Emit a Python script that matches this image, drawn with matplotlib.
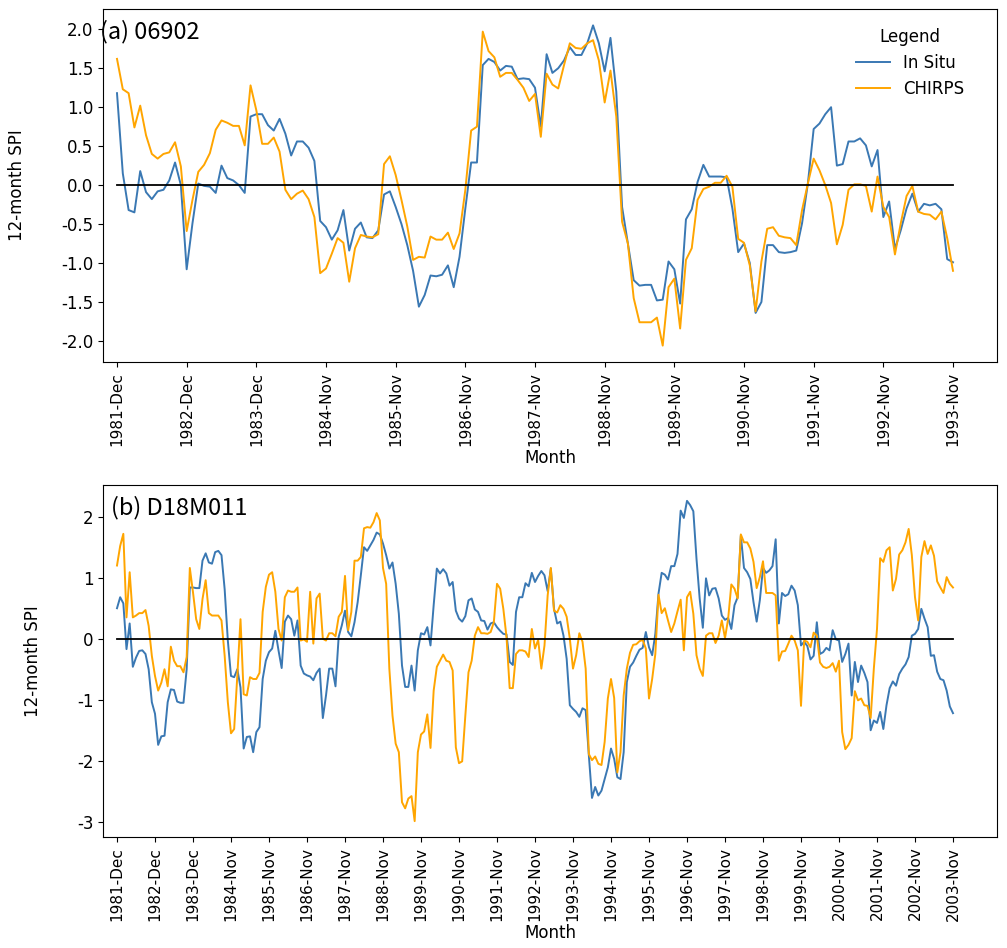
import matplotlib
matplotlib.use('Agg')
import matplotlib.pyplot as plt
import numpy as np

# ---------------- data ----------------
a_insitu = [1.18, 0.15, -0.32, -0.35, 0.18, -0.09, -0.18, -0.08, -0.06, 0.06,
            0.29, 0.00, -1.08, -0.49, 0.02, -0.01, -0.02, -0.10, 0.25, 0.09,
            0.06, 0.00, -0.10, 0.88, 0.91, 0.91, 0.77, 0.70, 0.85, 0.66,
            0.38, 0.56, 0.56, 0.48, 0.31, -0.46, -0.54, -0.70, -0.58, -0.32,
            -0.84, -0.56, -0.48, -0.67, -0.68, -0.58, -0.12, -0.08, -0.28, -0.50,
            -0.77, -1.10, -1.56, -1.41, -1.16, -1.17, -1.15, -1.03, -1.31, -0.92,
            -0.30, 0.29, 0.29, 1.54, 1.62, 1.58, 1.47, 1.53, 1.52, 1.36,
            1.37, 1.36, 1.25, 0.75, 1.68, 1.44, 1.50, 1.60, 1.77, 1.67,
            1.67, 1.82, 2.05, 1.82, 1.46, 1.89, 1.20, -0.28, -0.75, -1.22,
            -1.29, -1.28, -1.28, -1.48, -1.47, -0.98, -1.08, -1.52, -0.44, -0.31,
            0.04, 0.26, 0.11, 0.11, 0.11, 0.10, -0.30, -0.86, -0.75, -1.00,
            -1.64, -1.50, -0.77, -0.77, -0.86, -0.87, -0.86, -0.84, -0.49, 0.02,
            0.72, 0.79, 0.91, 1.00, 0.25, 0.27, 0.56, 0.56, 0.60, 0.51,
            0.24, 0.45, -0.41, -0.21, -0.82, -0.58, -0.30, -0.11, -0.34, -0.24,
            -0.26, -0.24, -0.31, -0.95, -0.99]
a_chirps = [1.62, 1.23, 1.18, 0.74, 1.02, 0.64, 0.40, 0.34, 0.40, 0.42,
            0.55, 0.24, -0.59, -0.19, 0.17, 0.26, 0.41, 0.71, 0.83, 0.80,
            0.76, 0.76, 0.51, 1.28, 0.96, 0.53, 0.53, 0.61, 0.43, -0.06,
            -0.18, -0.11, -0.07, -0.18, -0.41, -1.13, -1.07, -0.88, -0.68, -0.74,
            -1.24, -0.81, -0.64, -0.66, -0.67, -0.63, 0.27, 0.37, 0.13, -0.19,
            -0.53, -0.96, -0.92, -0.93, -0.66, -0.70, -0.70, -0.61, -0.82, -0.62,
            -0.06, 0.70, 0.75, 1.97, 1.72, 1.64, 1.39, 1.44, 1.44, 1.35,
            1.25, 1.08, 1.17, 0.62, 1.43, 1.29, 1.24, 1.54, 1.82, 1.76,
            1.75, 1.82, 1.86, 1.60, 1.06, 1.47, 0.88, -0.47, -0.75, -1.45,
            -1.76, -1.76, -1.76, -1.70, -2.06, -1.31, -1.20, -1.84, -0.96, -0.81,
            -0.19, -0.05, -0.02, 0.03, 0.03, 0.12, -0.02, -0.69, -0.74, -1.03,
            -1.62, -0.98, -0.56, -0.54, -0.65, -0.67, -0.68, -0.77, -0.32, 0.02,
            0.34, 0.19, 0.00, -0.23, -0.76, -0.51, -0.06, 0.01, 0.01, -0.01,
            -0.34, 0.11, -0.28, -0.41, -0.89, -0.49, -0.14, -0.01, -0.34, -0.37,
            -0.38, -0.44, -0.34, -0.68, -1.10]

b_insitu = [0.50, 0.68, 0.58, -0.17, 0.25, -0.46, -0.31, -0.20, -0.19, -0.25,
            -0.50, -1.04, -1.23, -1.74, -1.60, -1.59, -1.04, -0.83, -0.84, -1.03,
            -1.05, -1.05, -0.50, 0.84, 0.84, 0.83, 0.83, 1.28, 1.40, 1.25,
            1.23, 1.42, 1.44, 1.37, 0.81, -0.03, -0.61, -0.63, -0.50, -0.80,
            -1.80, -1.61, -1.60, -1.86, -1.53, -1.45, -0.66, -0.36, -0.22, -0.16,
            0.13, -0.19, -0.48, 0.28, 0.38, 0.32, 0.05, 0.30, -0.44, -0.57,
            -0.60, -0.62, -0.68, -0.56, -0.49, -1.30, -0.93, -0.49, -0.49, -0.78,
            0.03, 0.22, 0.46, 0.11, 0.04, 0.27, 0.60, 1.04, 1.50, 1.44,
            1.53, 1.62, 1.74, 1.71, 1.56, 1.37, 1.15, 1.25, 0.90, 0.41,
            -0.44, -0.79, -0.79, -0.44, -0.85, -0.19, 0.09, 0.07, 0.19, -0.11,
            0.55, 1.15, 1.07, 1.14, 1.07, 0.87, 0.93, 0.46, 0.33, 0.28,
            0.37, 0.63, 0.66, 0.48, 0.44, 0.30, 0.29, 0.15, 0.25, 0.27,
            0.19, 0.13, 0.08, 0.07, -0.38, -0.43, 0.44, 0.68, 0.68, 0.91,
            0.86, 1.08, 0.93, 1.03, 1.11, 1.04, 0.78, 1.15, 0.49, 0.25,
            0.28, 0.05, -0.33, -1.09, -1.15, -1.20, -1.28, -1.14, -1.17, -1.91,
            -2.61, -2.43, -2.57, -2.49, -2.30, -2.11, -1.80, -1.97, -2.27, -2.30,
            -1.86, -0.71, -0.46, -0.39, -0.28, -0.18, -0.15, 0.11, -0.14, -0.27,
            0.08, 0.74, 1.08, 1.05, 0.97, 1.19, 1.19, 1.39, 2.10, 1.98,
            2.26, 2.19, 2.09, 1.31, 0.66, 0.18, 0.99, 0.71, 0.82, 0.83,
            0.66, 0.38, 0.31, 0.34, 0.16, 0.55, 0.68, 1.69, 1.16, 1.09,
            0.98, 0.60, 0.28, 0.63, 1.16, 1.08, 1.12, 1.19, 1.63, 0.25,
            0.75, 0.70, 0.73, 0.87, 0.79, 0.55, -0.11, -0.05, -0.12, -0.34,
            -0.28, 0.27, -0.25, -0.22, -0.15, -0.19, 0.14, -0.01, -0.03, -0.38,
            -0.25, -0.08, -0.93, -0.38, -0.71, -0.44, -0.56, -0.71, -1.50, -1.34,
            -1.38, -1.20, -1.48, -1.09, -0.81, -0.70, -0.77, -0.58, -0.49, -0.42,
            -0.30, 0.05, 0.08, 0.16, 0.49, 0.33, 0.19, -0.28, -0.27, -0.54,
            -0.66, -0.68, -0.85, -1.11, -1.22]
b_chirps = [1.20, 1.52, 1.72, 0.35, 1.09, 0.35, 0.38, 0.42, 0.42, 0.47,
            0.21, -0.28, -0.61, -0.85, -0.72, -0.50, -0.78, -0.13, -0.36, -0.45,
            -0.45, -0.55, -0.30, 1.16, 0.76, 0.32, 0.16, 0.65, 0.96, 0.42,
            0.38, 0.38, 0.38, 0.30, -0.28, -1.04, -1.55, -1.48, -0.60, 0.32,
            -0.91, -0.93, -0.63, -0.66, -0.66, -0.56, 0.44, 0.85, 1.05, 1.09,
            0.77, 0.16, -0.03, 0.68, 0.79, 0.77, 0.77, 0.84, -0.03, -0.01,
            -0.05, 0.77, -0.08, 0.66, 0.74, 0.00, -0.03, 0.09, 0.09, 0.04,
            0.36, 0.44, 1.03, 0.14, 0.44, 1.28, 1.28, 1.34, 1.81, 1.83,
            1.82, 1.91, 2.06, 1.94, 1.16, 0.90, -0.49, -1.26, -1.72, -1.86,
            -2.68, -2.78, -2.62, -2.58, -2.99, -1.86, -1.57, -1.52, -1.24, -1.79,
            -0.85, -0.46, -0.36, -0.26, -0.36, -0.38, -0.52, -1.78, -2.04, -2.01,
            -1.26, -0.55, -0.36, 0.05, 0.19, 0.09, 0.09, 0.08, 0.11, 0.27,
            0.90, 0.82, 0.49, 0.03, -0.81, -0.81, -0.25, -0.19, -0.19, -0.21,
            -0.30, 0.16, -0.16, -0.02, -0.49, -0.11, 0.71, 1.16, 0.46, 0.43,
            0.55, 0.49, 0.36, 0.00, -0.49, -0.27, 0.09, -0.05, -0.49, -1.89,
            -1.99, -1.93, -2.05, -2.07, -1.69, -0.98, -0.66, -0.97, -2.19, -1.86,
            -0.93, -0.49, -0.23, -0.10, -0.09, -0.04, -0.02, -0.16, -0.98, -0.66,
            -0.25, 0.72, 0.42, 0.50, 0.30, 0.11, 0.25, 0.45, 0.64, -0.19,
            0.68, 0.77, 0.41, -0.27, -0.49, -0.61, 0.05, 0.09, 0.09, -0.07,
            0.05, 0.30, 0.01, 0.33, 0.89, 0.82, 0.66, 1.71, 1.58, 1.58,
            1.48, 1.26, 0.83, 1.01, 1.27, 0.75, 0.75, 0.75, 0.71, -0.36,
            -0.21, -0.20, -0.08, 0.05, -0.03, -0.19, -1.10, -0.03, -0.05, -0.14,
            0.10, 0.05, -0.39, -0.46, -0.48, -0.46, -0.40, -0.54, -0.36, -1.53,
            -1.81, -1.74, -1.63, -0.86, -1.01, -0.98, -1.09, -1.10, -1.30, -0.49,
            0.16, 1.32, 1.26, 1.45, 1.50, 0.79, 0.98, 1.38, 1.45, 1.58,
            1.80, 1.37, 0.68, 0.30, 1.34, 1.60, 1.39, 1.53, 1.36, 0.94,
            0.84, 0.75, 1.01, 0.90, 0.84]

a_ticklabels = ['1981-Dec', '1982-Dec', '1983-Dec', '1984-Nov', '1985-Nov',
                '1986-Nov', '1987-Nov', '1988-Nov', '1989-Nov', '1990-Nov',
                '1991-Nov', '1992-Nov', '1993-Nov']
b_ticklabels = ['1981-Dec', '1982-Dec', '1983-Dec', '1984-Nov', '1985-Nov',
                '1986-Nov', '1987-Nov', '1988-Nov', '1989-Nov', '1990-Nov',
                '1991-Nov', '1992-Nov', '1993-Nov', '1994-Nov', '1995-Nov',
                '1996-Nov', '1997-Nov', '1998-Nov', '1999-Nov', '2000-Nov',
                '2001-Nov', '2002-Nov', '2003-Nov']
titles = ['(a) 06902', '(b) D18M011']
series_names = ['In Situ', 'CHIRPS']

# ---------------- figure ----------------
plt.rcParams['font.family'] = ['DejaVu Sans']
plt.rcParams['axes.unicode_minus'] = False
W, H = 1007, 948
fig = plt.figure(figsize=(W / 100, H / 100), dpi=100)

BLUE = '#3a78b3'
ORANGE = '#ffa500'

def add_ax(l, t, r, b):
    return fig.add_axes([l / W, 1 - b / H, (r - l) / W, (b - t) / H])

L_PX, R_PX = 103, 997
X0_PX, X1_PX = 117, 953
panels = [
    dict(ax=add_ax(L_PX, 9, R_PX, 362), ins=a_insitu, chi=a_chirps,
         labels=a_ticklabels, title=titles[0], title_x=100, ylim=(-2.27, 2.26),
         yticks=np.arange(-2.0, 2.01, 0.5), yfmt='{:.1f}', legend=True),
    dict(ax=add_ax(L_PX, 485, R_PX, 837), ins=b_insitu, chi=b_chirps,
         labels=b_ticklabels, title=titles[1], title_x=111, ylim=(-3.25, 2.52),
         yticks=np.arange(-3, 3, 1), yfmt='{:.0f}', legend=False),
]

for p in panels:
    ax = p['ax']
    n = len(p['ins'])
    x = np.arange(n)
    ax.plot(x, p['ins'], color=BLUE, lw=1.4, label=series_names[0])
    ax.plot(x, p['chi'], color=ORANGE, lw=1.4, label=series_names[1])
    ax.plot(x, np.zeros(n), color='black', lw=1.3)
    s = (X1_PX - X0_PX) / (n - 1)
    ax.set_xlim(-(X0_PX - L_PX) / s, (n - 1) + (R_PX - X1_PX) / s)
    ax.set_ylim(*p['ylim'])
    ticks = np.arange(0, n, 12)
    ax.set_xticks(ticks)
    ax.set_xticklabels(p['labels'], rotation=90, fontsize=11)
    ax.set_yticks(p['yticks'])
    ax.set_yticklabels([p['yfmt'].format(v) for v in p['yticks']], fontsize=12)
    ax.set_xlabel('Month', fontsize=12, labelpad=2)
    ax.set_ylabel('12-month SPI', fontsize=12, labelpad=25)
    tx = (p['title_x'] - L_PX) / (R_PX - L_PX)
    ax.text(tx, 0.935, p['title'], transform=ax.transAxes, fontsize=17,
            ha='left', va='center', family=['Noto Sans CJK JP', 'DejaVu Sans'])
    if p['legend']:
        ax.legend(title='Legend', frameon=False, loc='upper right', fontsize=12,
                  title_fontsize=12, bbox_to_anchor=(0.98, 0.99))

fig.savefig('out.png', dpi=100)
